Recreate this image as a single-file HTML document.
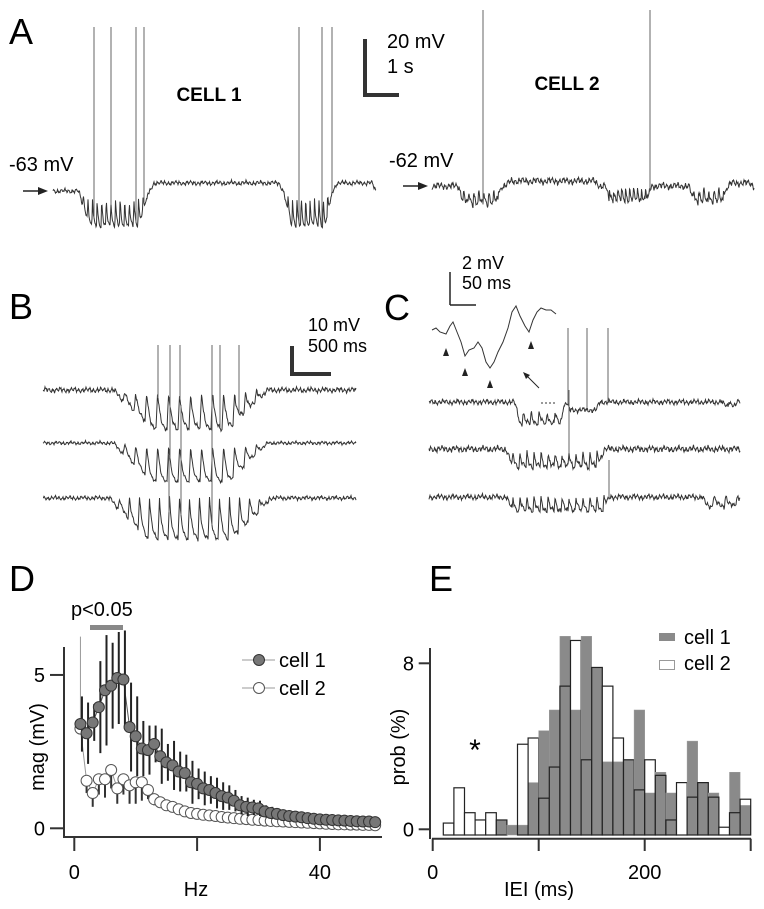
<!DOCTYPE html>
<html><head><meta charset="utf-8"><style>
html,body{margin:0;padding:0;background:#fff;}
svg{display:block;font-family:"Liberation Sans",sans-serif;}
</style></head><body>
<svg id="fig" width="764" height="909" viewBox="0 0 764 909" xmlns="http://www.w3.org/2000/svg">
<rect width="764" height="909" fill="#fff"/>
<!-- Panel A -->
<text x="9" y="44" font-size="36">A</text>
<text x="209" y="101" font-size="19" font-weight="bold" text-anchor="middle">CELL 1</text>
<text x="567" y="90" font-size="19" font-weight="bold" text-anchor="middle">CELL 2</text>
<text x="9" y="171" font-size="20">-63 mV</text>
<text x="389" y="167" font-size="20">-62 mV</text>
<g><line x1="23" y1="191" x2="40" y2="191" stroke="#222" stroke-width="1.5"/><polygon points="48,191 38,187 38,195" fill="#222"/></g>
<g><line x1="403" y1="186" x2="420" y2="186" stroke="#222" stroke-width="1.5"/><polygon points="428,186 418,182 418,190" fill="#222"/></g>
<g><rect x="363" y="39" width="4" height="58" fill="#333"/><rect x="363" y="93" width="36" height="4" fill="#333"/></g>
<text x="387" y="48" font-size="20">20 mV</text>
<text x="387" y="73" font-size="20">1 s</text>
<!-- Panel B -->
<text x="9" y="319" font-size="36">B</text>
<g><rect x="290" y="346" width="4" height="30" fill="#333"/><rect x="290" y="372" width="41" height="4" fill="#333"/></g>
<text x="308" y="331" font-size="18">10 mV</text>
<text x="308" y="352" font-size="18">500 ms</text>
<!-- Panel C -->
<text x="384" y="320" font-size="36">C</text>
<g><line x1="450" y1="272" x2="450" y2="305" stroke="#222" stroke-width="1.5"/><line x1="450" y1="305" x2="476" y2="305" stroke="#222" stroke-width="1.5"/></g>
<text x="462" y="269" font-size="18">2 mV</text>
<text x="462" y="289" font-size="18">50 ms</text>
<g fill="#222">
<polygon points="446,348 443,356 449,356"/><polygon points="465,368 462,376 468,376"/><polygon points="490,380 487,388 493,388"/><polygon points="531,341 528,349 534,349"/>
</g>
<g><line x1="539" y1="388" x2="526" y2="375" stroke="#222" stroke-width="1"/><polygon points="523,372 530,375 526,379" fill="#222"/></g>
<line x1="541" y1="403" x2="556" y2="403" stroke="#333" stroke-width="1" stroke-dasharray="2,2"/>
<g id="traces"></g>
<!-- Panel D -->
<text x="9" y="591" font-size="36">D</text>
<text x="71" y="616" font-size="20">p&lt;0.05</text>
<rect x="90" y="625" width="33" height="5" fill="#888"/>
<g id="chartD"></g>
<!-- Panel E -->
<text x="429" y="591" font-size="36">E</text>
<text x="475" y="760" font-size="30" text-anchor="middle">*</text>
<g id="chartE"></g>
</svg>
<script>
// ---- Panel D data ----
const freqs = [1,2,3,4,5,6,7,8,9,10,11,12,13,14,15,16,17,18,19,20,21,22,23,24,25,26,27,28,29,30,31,32,33,34,35,36,37,38,39,40,41,42,43,44,45,46,47,48,49];
const cell1Mag = [3.4,3.1,3.45,3.95,4.5,4.65,4.9,4.85,3.3,3.0,2.6,2.55,2.75,2.35,2.15,2.05,1.85,1.8,1.5,1.45,1.3,1.25,1.15,1.05,1.0,0.9,0.75,0.7,0.68,0.65,0.55,0.5,0.47,0.43,0.4,0.38,0.36,0.33,0.31,0.29,0.28,0.27,0.26,0.25,0.24,0.23,0.22,0.22,0.2];
const cell1Err = [0.9,1.0,0.6,1.5,1.8,1.4,1.5,1.6,1.45,1.3,0.9,0.8,0.6,0.9,0.6,0.8,0.65,0.6,0.7,0.5,0.55,0.45,0.5,0.45,0.4,0.35,0.3,0.3,0.25,0.25,0.2,0.2,0.18,0.15,0.15,0.12,0.12,0.1,0.1,0.1,0.08,0.08,0.08,0.07,0.07,0.06,0.06,0.05,0.05];
const cell2Mag = [3.25,1.55,1.15,1.6,1.6,1.9,1.3,1.6,1.4,1.5,1.5,1.25,0.95,0.85,0.75,0.7,0.62,0.55,0.5,0.47,0.44,0.42,0.4,0.37,0.35,0.33,0.31,0.3,0.28,0.27,0.25,0.24,0.23,0.22,0.21,0.2,0.19,0.18,0.17,0.16,0.15,0.14,0.13,0.13,0.12,0.12,0.11,0.11,0.1];
const cell2Err = [3.0,0.4,0.45,0.5,0.6,0.6,0.5,0.5,0.6,0.7,0.6,0.3,0.2,0.15,0.15,0.12,0.1,0.1,0.1,0.08,0.08,0.07,0.07,0.06,0.06,0.05,0.05,0.05,0.05,0.04,0.04,0.04,0.04,0.04,0.03,0.03,0.03,0.03,0.03,0.03,0.03,0.03,0.02,0.02,0.02,0.02,0.02,0.02,0.02];
const dXTicks = [0,20,40];
const dXTickLabels = ["0","","40"];
const dYTicks = [0,5];
const dYTickLabels = ["0","5"];
// ---- Panel E data ----
const binEdges = [0,10,20,30,40,50,60,70,80,90,100,110,120,130,140,150,160,170,180,190,200,210,220,230,240,250,260,270,280,290,300];
const cell1Prob = [0,0,0,0,0,0,0.45,0.2,0.2,2.25,4.75,5.75,9.3,5.75,9.3,7.8,3.25,3.25,3.35,5.75,1.75,2.75,1.75,0,4.25,2.25,1.75,0,2.75,1.15];
const cell2Prob = [0,0.3,2.0,0.8,0.45,0.8,0.45,0,4.1,4.4,1.5,3.0,6.9,9.1,3.35,7.8,6.9,4.4,3.35,1.9,3.35,2.6,0.45,2.25,1.55,2.25,1.55,0.1,0.8,1.45];
const eXTicks = [0,100,200,300];
const eXTickLabels = ["0","","200",""];
const eYTicks = [0,8];
const eYTickLabels = ["0","8"];

const NS = "http://www.w3.org/2000/svg";
function mk(tag, attrs, parent){const e=document.createElementNS(NS,tag);for(const k in attrs)e.setAttribute(k,attrs[k]);parent.appendChild(e);return e;}

// ---- Chart D ----
const gD = document.getElementById('chartD');
const dx = v => 74.3 + v*6.14;
const dy = v => 828.3 - v*30.67;
let el;
el = mk('line',{x1:64,y1:647,x2:64,y2:837,stroke:'#333','stroke-width':2},gD);


el = mk('line',{x1:63,y1:837,x2:382,y2:837,stroke:'#333','stroke-width':2},gD);


dYTicks.forEach((t,i)=>{
  el = mk('line',{x1:50,y1:dy(t),x2:64,y2:dy(t),stroke:'#333','stroke-width':2},gD);
  
  
  el = mk('text',{x:45,y:dy(t)+7,'font-size':20,'text-anchor':'end'},gD); el.textContent=dYTickLabels[i];
  
  
});
dXTicks.forEach((t,i)=>{
  el = mk('line',{x1:dx(t),y1:837,x2:dx(t),y2:851,stroke:'#333','stroke-width':2},gD);
  
  
  el = mk('text',{x:dx(t),y:879,'font-size':20,'text-anchor':'middle'},gD); el.textContent=dXTickLabels[i];
  
  
});
el = mk('text',{x:196,y:896,'font-size':20,'text-anchor':'middle'},gD); el.textContent='Hz';


el = mk('text',{x:0,y:0,'font-size':20,'text-anchor':'middle',transform:'translate(44,747) rotate(-90)'},gD); el.textContent='mag (mV)';


let pts2 = freqs.map((f,i)=>dx(f)+','+dy(cell2Mag[i])).join(' ');
el = mk('polyline',{points:pts2,fill:'none',stroke:'#999','stroke-width':1},gD);


freqs.forEach((f,i)=>{
  el = mk('line',{x1:dx(f),y1:dy(cell2Mag[i]),x2:dx(f),y2:dy(cell2Mag[i]-cell2Err[i]*(i===0?-1:1)),stroke:i===0?'#999':'#333','stroke-width':i===0?1:2},gD);
  
  
});
freqs.forEach((f,i)=>{
  el = mk('circle',{cx:dx(f),cy:dy(cell2Mag[i]),r:5.5,fill:'#fff',stroke:'#555','stroke-width':1},gD);
  
  
});
let pts1 = freqs.map((f,i)=>dx(f)+','+dy(cell1Mag[i])).join(' ');
el = mk('polyline',{points:pts1,fill:'none',stroke:'#555','stroke-width':1},gD);


freqs.forEach((f,i)=>{
  el = mk('line',{x1:dx(f)+1.5,y1:dy(cell1Mag[i]-cell1Err[i]),x2:dx(f)+1.5,y2:dy(cell1Mag[i]+cell1Err[i]),stroke:'#222','stroke-width':2},gD);
  
  
});
freqs.forEach((f,i)=>{
  el = mk('circle',{cx:dx(f),cy:dy(cell1Mag[i]),r:5.5,fill:'#777',stroke:'#333','stroke-width':1},gD);
  
  
});
el = mk('line',{x1:242,y1:660,x2:275,y2:660,stroke:'#999','stroke-width':1},gD);


el = mk('circle',{cx:259,cy:660,r:5.5,fill:'#777',stroke:'#333'},gD);


el = mk('text',{x:279,y:667,'font-size':20},gD); el.textContent='cell 1';


el = mk('line',{x1:242,y1:688,x2:275,y2:688,stroke:'#999','stroke-width':1},gD);


el = mk('circle',{cx:259,cy:688,r:5.5,fill:'#fff',stroke:'#555'},gD);


el = mk('text',{x:279,y:695,'font-size':20},gD); el.textContent='cell 2';



// ---- Chart E ----
const gE = document.getElementById('chartE');
const ex = v => 432.7 + v*1.06;
const ey = v => 829.3 - v*20.75;
const eBase = 835;
for(let i=0;i<cell1Prob.length;i++){
  const x0=ex(binEdges[i]), w=ex(binEdges[i+1])-x0;
  if(cell2Prob[i]>0){
    el = mk('rect',{x:x0,y:ey(cell2Prob[i]),width:w,height:eBase-ey(cell2Prob[i]),fill:'#fff',stroke:'none'},gE);
    
    
  }
  if(cell1Prob[i]>0){
    el = mk('rect',{x:x0,y:ey(cell1Prob[i]),width:w,height:eBase-ey(cell1Prob[i]),fill:'#8a8a8a',stroke:'#999','stroke-width':0.5},gE);
    
    
  }
  if(cell2Prob[i]>0){
    el = mk('rect',{x:x0,y:ey(cell2Prob[i]),width:w,height:eBase-ey(cell2Prob[i]),fill:'none',stroke:'#222','stroke-width':1.2},gE);
    
    
  }
}
el = mk('line',{x1:430,y1:648,x2:430,y2:839,stroke:'#333','stroke-width':2},gE);


el = mk('line',{x1:432,y1:838.7,x2:751,y2:838.7,stroke:'#333','stroke-width':2},gE);


eYTicks.forEach((t,i)=>{
  el = mk('line',{x1:418.7,y1:ey(t),x2:430,y2:ey(t),stroke:'#333','stroke-width':2},gE);
  
  
  el = mk('text',{x:414,y:ey(t)+7,'font-size':20,'text-anchor':'end'},gE); el.textContent=eYTickLabels[i];
  
  
});
eXTicks.forEach((t,i)=>{
  el = mk('line',{x1:ex(t),y1:838.7,x2:ex(t),y2:851,stroke:'#333','stroke-width':2},gE);
  
  
  el = mk('text',{x:ex(t),y:879,'font-size':20,'text-anchor':'middle'},gE); el.textContent=eXTickLabels[i];
  
  
});
el = mk('text',{x:539,y:896,'font-size':20,'text-anchor':'middle'},gE); el.textContent='IEI (ms)';


el = mk('text',{x:0,y:0,'font-size':20,'text-anchor':'middle',transform:'translate(405,747) rotate(-90)'},gE); el.textContent='prob (%)';


el = mk('rect',{x:659,y:633,width:16,height:8,fill:'#8a8a8a'},gE);


el = mk('text',{x:684,y:644,'font-size':20},gE); el.textContent='cell 1';


el = mk('rect',{x:659.5,y:660.5,width:15,height:9,fill:'#fff',stroke:'#999'},gE);


el = mk('text',{x:684,y:670,'font-size':20},gE); el.textContent='cell 2';



// ---- Voltage traces (illustrative) ----
const gT = document.getElementById('traces');
function clamp(v){return Math.max(0,Math.min(1,v));}
function traceY(o,x){
  let y=o.base;
  for(const d of o.dips){
    const r=d[5]||4;
    const w=clamp((x-d[0])/r)*clamp((d[1]-x)/r);
    let ph=((x-d[0])/d[4])%1;
    // sawtooth: fast rise to peak then decay
    const p = ph<0.15 ? ph/0.15 : Math.exp(-(ph-0.15)*4);
    y+=w*d[2]-w*d[3]*p;
  }
  const s=o.seed;
  y+=o.noise*(Math.sin(x*1.7+s)+0.5*Math.sin(x*4.3+2*s)+0.3*Math.sin(x*9.1+3*s)+0.6*Math.sin(x*0.45+s));
  return y;
}
function drawTrace(o,name){
  const pts=[];
  for(let x=o.x0;x<=o.x1;x+=0.5){pts.push(x.toFixed(1)+','+traceY(o,x).toFixed(1));}
  const p=mk('polyline',{points:pts.join(' '),fill:'none',stroke:'#333','stroke-width':1},gT);
  
  
  for(const sp of o.spikes){
    const l=mk('line',{x1:sp[0],y1:traceY(o,sp[0]),x2:sp[0],y2:sp[1],stroke:'#666','stroke-width':1},gT);
    
    
  }
}
drawTrace({x0:53,x1:376,base:191,noise:1.3,seed:1,dips:[[78,150,36,28,4.6,12],[150,283,-8,0,10,4],[283,333,36,30,4.4,8],[333,376,-8,0,10,4]],spikes:[[94,27],[111,27],[136,27],[144,27],[299,27],[322,27],[332,27]]},'cell1-trace');
drawTrace({x0:432,x1:754,base:186,noise:2,seed:2,dips:[[458,502,18,14,5,6],[505,600,-5,0,10,6],[605,652,14,12,4,4],[688,728,16,14,5,6],[728,754,-3,0,10,4]],spikes:[[483,10],[650,10]]},'cell2-trace');
drawTrace({x0:43,x1:356,base:390,noise:1.5,seed:3,dips:[[112,268,40,38,11,40]],spikes:[[158,345],[170,345],[180,345],[212,345],[220,345],[239,345]]},'b-trace-1');
drawTrace({x0:43,x1:356,base:443,noise:1,seed:4,dips:[[112,268,40,38,11,40]],spikes:[[170,400],[181,405],[212,405]]},'b-trace-2');
drawTrace({x0:43,x1:356,base:498,noise:1.2,seed:5,dips:[[108,272,42,42,10,40]],spikes:[[169,455],[181,455],[212,460]]},'b-trace-3');
drawTrace({x0:429,x1:740,base:402,noise:1.5,seed:6,dips:[[514,566,22,12,8,6],[566,600,8,0,10,4],[720,740,4,6,8,4]],spikes:[[568,328],[587,328],[608,328]]},'c-trace-1');
drawTrace({x0:429,x1:740,base:449,noise:1.8,seed:7,dips:[[505,605,18,14,7,8]],spikes:[[569,390]]},'c-trace-2');
drawTrace({x0:429,x1:740,base:497,noise:1.6,seed:8,dips:[[505,610,14,14,7,8],[700,740,10,12,12,6]],spikes:[[609,460]]},'c-trace-3');
el = mk('polyline',{points:'432,330 436,328 440,332 446,334 450,326 453,322 457,332 461,342 465,356 469,350 474,348 478,342 482,348 486,362 490,368 494,362 498,352 503,342 508,328 512,312 516,306 520,316 525,326 529,332 533,320 537,312 541,308 546,310 551,310 556,314',fill:'none',stroke:'#333','stroke-width':1},gT);


</script>
</body></html>
